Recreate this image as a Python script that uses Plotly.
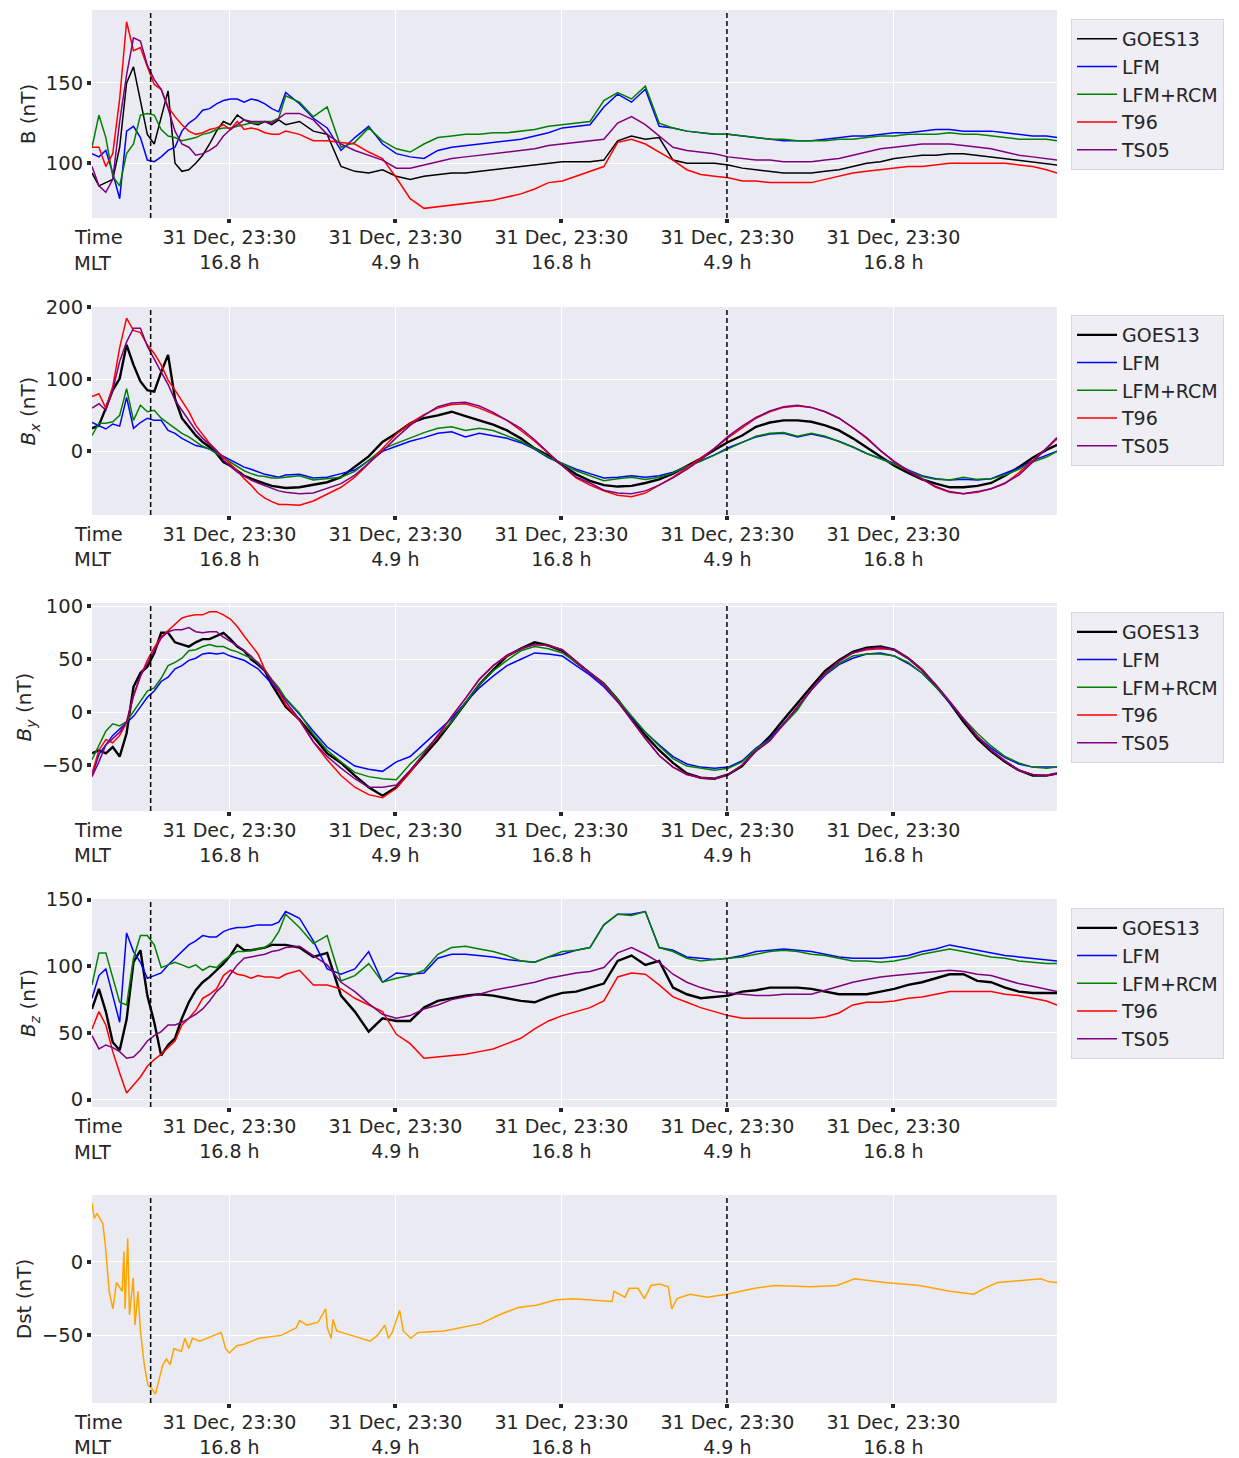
import plotly.graph_objects as go
from plotly.subplots import make_subplots

# time axis in hours from the start of the plotted interval
hours = [0, 0.5, 1, 1.5, 2, 2.5, 3, 3.5, 4, 4.5, 5, 5.5, 6, 6.5, 7, 7.5, 8, 8.5, 9, 9.5,
         10, 10.5, 11, 11.5, 12, 12.5, 13, 13.5, 14,
         15, 16, 17, 18, 19, 20, 21, 22, 23, 24, 25, 26, 27, 28, 29, 30, 31, 32, 33, 34,
         35, 36, 37, 38, 39, 40, 41, 42, 43, 44, 45, 46, 47, 48, 49, 50, 51, 52, 53, 54,
         55, 56, 57, 58, 59, 60, 61, 62, 63, 64, 65, 66, 67, 68, 69, 69.76]

series_names = ["GOES13", "LFM", "LFM+RCM", "T96", "TS05"]

# ---- |B| ----
B_GOES13 = [94, 86, 88, 90, 110, 150, 160, 140, 118, 112, 128, 145, 100, 95, 96, 100, 105, 112, 120, 126, 124, 130, 127, 125, 124, 126, 124, 127, 124,
            126, 120, 118, 98, 95, 94, 96, 92, 90, 92, 93, 94, 94, 95, 96, 97, 98, 99, 100, 101, 101, 101, 102,
            114, 117, 115, 116, 102,
            100, 100, 100, 99, 97, 96, 95, 94, 94, 94, 95, 96, 98, 100, 101, 103, 104, 105, 105, 106, 106, 105, 104, 103, 102, 101, 100, 99]
B_LFM = [106, 104, 108, 94, 78, 120, 123, 116, 102, 101, 104, 108, 110, 120, 125, 128, 133, 134, 137, 139, 140, 140, 138, 140, 139, 137, 134, 132, 144,
         137, 128, 122, 108, 116, 123, 112, 106, 104, 103, 108, 110, 111, 112, 113, 114, 115, 117, 119, 122, 123, 124,
         135, 143, 138, 146, 123, 122, 120, 119, 118, 118, 117,
         116, 115, 114, 114, 114, 115, 116, 117, 117, 118, 119, 119, 120, 121, 121, 120, 120, 120, 119, 118, 117, 117, 116]
B_LFMRCM = [110, 130, 116, 92, 86, 106, 112, 130, 131, 130, 121, 117, 116, 114, 115, 116, 118, 119, 121, 122, 122, 123, 124, 125, 125, 126, 126, 128, 142,
            138, 129, 135, 110, 113, 122, 114, 109, 107, 112, 116, 117, 118, 118, 119, 119, 120, 121, 123, 124, 125, 126,
            139, 144, 140, 148, 125, 122, 120, 119, 118, 118, 117,
            116, 115, 115, 114, 114, 114, 115, 115, 116, 117, 117, 118, 118, 118, 119, 118, 118, 117, 116, 115, 115, 115, 114]
B_T96 = [110, 110, 98, 106, 140, 188, 170, 172, 160, 149, 146, 135, 129, 124, 120, 118, 119, 121, 122, 124, 121, 126, 121, 122, 121, 119, 118, 118, 120,
         118, 114, 114, 113, 112, 107, 103, 91, 78, 72, 73, 74, 75, 76, 77, 79, 81, 84, 88, 89, 92, 95,
         98, 113, 115, 112, 107, 102, 96, 93, 92, 91, 89,
         89, 88, 88, 88, 88, 90, 92, 94, 95, 96, 97, 98, 98, 99, 100, 100, 100, 100, 100, 99, 98, 96, 94]
B_TS05 = [98, 86, 82, 90, 126, 155, 178, 176, 161, 152, 146, 134, 120, 112, 110, 105, 106, 108, 111, 117, 121, 124, 127, 126, 126, 126, 125, 128, 131,
          131, 127, 118, 112, 108, 105, 102, 97, 97, 99, 101, 103, 104, 105, 106, 107, 108, 109, 111, 112, 113, 114,
          115, 125, 129, 124, 117, 110, 108, 107, 106, 104, 103,
          102, 102, 101, 101, 101, 102, 103, 105, 107, 109, 110, 111, 112, 112, 112, 111, 110, 109, 107, 105, 104, 103, 102]

# ---- Bx ----
Bx_GOES13 = [32, 36, 60, 85, 101, 148, 120, 97, 85, 83, 110, 134, 73, 46, 34, 22, 13, 6, -3, -15, -20, -27, -34, -38, -42, -45, -48, -50, -51,
             -50, -47, -43, -36, -22, -7, 13, 25, 39, 46, 50, 55, 49, 43, 37, 29, 18, 4, -6, -19, -32, -41, -47, -49, -48,
             -44, -39, -31, -21, -10, 2, 13, 22, 34, 40, 43, 43, 41, 36, 29, 18, 5, -7, -20, -30, -39, -45, -50, -50,
             -48, -44, -34, -22, -9, 2, 9]
Bx_LFM = [40, 36, 31, 38, 35, 75, 32, 40, 46, 43, 43, 29, 25, 18, 13, 8, 6, 3, -2, -7, -11, -17, -22, -25, -29, -32, -34, -36, -33,
          -32, -37, -36, -31, -26, -13, 0, 7, 14, 19, 25, 27, 20, 25, 22, 18, 12, 3, -9, -17, -25, -31, -37, -36, -34,
          -36, -34, -29, -21, -13, -5, 5, 13, 20, 24, 25, 20, 24, 20, 14, 6, -3, -10, -17, -26, -34, -38, -40, -39,
          -40, -38, -31, -23, -13, -6, 0]
Bx_LFMRCM = [22, 39, 39, 41, 50, 87, 43, 64, 55, 57, 46, 39, 32, 25, 20, 13, 7, 3, -3, -9, -15, -22, -27, -31, -34, -35, -37, -37, -36,
             -34, -40, -38, -36, -28, -12, 3, 11, 19, 26, 32, 34, 29, 32, 29, 22, 14, 4, -8, -17, -27, -34, -41, -38, -36,
             -39, -36, -30, -21, -14, -5, 4, 13, 21, 25, 26, 21, 25, 21, 14, 6, -3, -10, -18, -27, -35, -39, -40, -36,
             -39, -38, -33, -25, -15, -8, 0]
Bx_T96 = [76, 80, 60, 90, 144, 185, 168, 165, 148, 136, 120, 99, 85, 70, 55, 36, 23, 11, 1, -8, -17, -27, -38, -47, -58, -65, -70, -74, -74,
          -75, -69, -59, -50, -36, -17, 4, 24, 39, 51, 60, 65, 66, 60, 52, 43, 29, 14, -3, -20, -37, -47, -55, -61, -63,
          -58, -47, -36, -23, -10, 4, 19, 33, 46, 55, 61, 63, 61, 55, 46, 33, 18, 1, -15, -27, -39, -50, -57, -59,
          -57, -52, -45, -30, -13, 4, 17]
Bx_TS05 = [60, 66, 57, 85, 125, 152, 171, 171, 146, 127, 110, 93, 71, 57, 43, 29, 18, 10, 1, -12, -20, -29, -34, -40, -44, -48, -52, -55, -57,
           -59, -58, -52, -45, -33, -17, 0, 19, 36, 50, 62, 67, 68, 63, 54, 43, 32, 16, -2, -20, -36, -44, -54, -58, -59,
           -55, -47, -37, -25, -12, 4, 21, 35, 47, 56, 62, 64, 61, 55, 46, 33, 19, 1, -14, -27, -38, -49, -56, -59,
           -56, -52, -44, -33, -15, 5, 19]

# ---- By ----
By_GOES13 = [-39, -36, -39, -33, -42, -20, 24, 37, 43, 56, 75, 75, 66, 64, 62, 66, 69, 69, 72, 75, 69, 62, 58, 50, 45, 39, 26, 15, 5,
             -7, -23, -39, -48, -60, -71, -79, -71, -56, -42, -26, -9, 9, 26, 40, 53, 60, 66, 63, 58, 47, 37, 27, 12, -6,
             -22, -36, -48, -58, -62, -63, -59, -51, -36, -23, -7, 9, 24, 39, 49, 57, 61, 62, 59, 51, 40, 25, 9, -9,
             -25, -37, -47, -55, -60, -60, -58]
By_LFM = [-60, -40, -31, -22, -16, -10, -4, 5, 14, 20, 29, 33, 41, 44, 49, 51, 55, 56, 55, 56, 53, 51, 49, 45, 41, 34, 27, 20, 12,
          -2, -18, -33, -42, -51, -54, -56, -47, -42, -30, -18, -6, 9, 23, 34, 44, 50, 56, 55, 53, 44, 35, 24, 10, -5,
          -19, -31, -42, -49, -52, -53, -52, -46, -34, -25, -11, 4, 21, 35, 45, 51, 55, 56, 53, 46, 37, 24, 9, -7,
          -23, -34, -43, -49, -52, -52, -52]
By_LFMRCM = [-45, -31, -18, -11, -13, -9, 1, 10, 20, 23, 32, 44, 47, 51, 58, 59, 62, 64, 62, 62, 59, 57, 54, 51, 47, 40, 31, 23, 13,
             -1, -21, -36, -47, -57, -61, -63, -64, -49, -37, -23, -9, 9, 26, 39, 49, 58, 62, 60, 56, 47, 37, 27, 12, -4,
             -19, -32, -44, -51, -53, -55, -53, -47, -35, -26, -12, 2, 22, 36, 46, 53, 55, 55, 53, 47, 37, 24, 10, -6,
             -20, -32, -42, -48, -52, -53, -52]
By_T96 = [-58, -36, -26, -29, -22, -10, 15, 34, 49, 61, 71, 77, 83, 89, 91, 92, 92, 95, 95, 92, 88, 81, 72, 64, 55, 40, 29, 20, 7,
          -8, -28, -45, -60, -71, -78, -81, -72, -57, -39, -23, -4, 13, 31, 44, 53, 60, 64, 63, 59, 48, 37, 26, 10, -8,
          -25, -41, -52, -59, -62, -63, -59, -50, -37, -27, -11, 6, 21, 37, 48, 56, 59, 60, 59, 51, 40, 26, 10, -7,
          -23, -36, -46, -55, -59, -60, -58]
By_TS05 = [-61, -47, -31, -25, -19, -9, 16, 34, 46, 58, 70, 76, 78, 78, 80, 76, 75, 76, 76, 71, 67, 63, 58, 53, 46, 39, 30, 21, 10,
           -7, -28, -42, -53, -63, -71, -71, -69, -55, -39, -22, -4, 13, 31, 44, 54, 60, 64, 63, 59, 48, 37, 26, 10, -8,
           -25, -41, -52, -59, -62, -63, -59, -50, -37, -27, -11, 6, 21, 37, 48, 56, 60, 61, 59, 51, 40, 26, 10, -7,
           -23, -36, -46, -55, -59, -60, -58]

# ---- Bz ----
Bz_GOES13 = [68, 83, 66, 43, 37, 60, 103, 112, 78, 58, 33, 41, 46, 61, 73, 82, 88, 92, 97, 102, 108, 116, 112, 112, 113, 114, 116, 116, 116,
             114, 107, 110, 78, 66, 51, 61, 59, 59, 69, 74, 76, 78, 79, 78, 76, 74, 73, 77, 80, 81, 84, 87, 104, 108,
             101, 104, 84, 79, 76, 77, 78, 81, 82, 84, 84, 84, 83, 81, 79, 79, 79, 81, 83, 86, 88, 91, 94, 94,
             89, 88, 84, 81, 80, 80, 80]
Bz_LFM = [76, 93, 98, 78, 58, 125, 111, 103, 91, 93, 95, 101, 106, 111, 116, 119, 123, 122, 122, 126, 128, 129, 129, 130, 131, 131, 131, 133, 141,
          136, 119, 98, 94, 98, 111, 88, 95, 94, 95, 106, 109, 109, 108, 107, 105, 104, 103, 107, 109, 112, 114, 131, 139, 139,
          141, 114, 112, 107, 106, 105, 106, 108, 111, 112, 113, 112, 111, 109, 107, 106, 106, 106, 107, 108, 111, 113, 116, 114,
          112, 110, 108, 107, 106, 105, 104]
Bz_LFMRCM = [86, 110, 110, 91, 73, 71, 106, 123, 123, 116, 99, 101, 103, 101, 99, 101, 97, 100, 99, 104, 108, 111, 111, 112, 113, 114, 118, 126, 139,
             129, 117, 123, 89, 93, 102, 88, 91, 93, 97, 109, 114, 115, 113, 111, 108, 104, 103, 107, 111, 112, 114, 131, 139, 138,
             141, 114, 111, 106, 104, 105, 106, 107, 109, 111, 112, 111, 109, 108, 106, 104, 104, 103, 104, 106, 109, 111, 113, 111,
             109, 107, 106, 104, 103, 102, 102]
Bz_T96 = [53, 66, 56, 36, 20, 5, 11, 17, 25, 30, 34, 39, 44, 56, 61, 67, 76, 79, 83, 93, 97, 94, 93, 91, 93, 92, 92, 91, 94,
          97, 86, 86, 83, 76, 71, 66, 49, 42, 31, 32, 33, 34, 36, 38, 42, 46, 53, 59, 63, 66, 69, 74, 92, 95,
          94, 86, 77, 73, 69, 66, 63, 61, 61, 61, 61, 61, 61, 62, 65, 71, 73, 73, 74, 76, 77, 79, 81, 81,
          81, 81, 79, 78, 76, 74, 71]
Bz_TS05 = [48, 38, 41, 39, 36, 31, 32, 37, 44, 48, 51, 56, 56, 58, 61, 64, 68, 74, 81, 86, 94, 101, 106, 107, 108, 109, 111, 112, 114,
           115, 108, 101, 88, 81, 72, 64, 61, 63, 68, 71, 75, 77, 79, 82, 84, 86, 88, 91, 93, 95, 96, 99, 110, 114,
           109, 103, 94, 88, 84, 81, 80, 79, 78, 78, 79, 79, 79, 82, 85, 88, 90, 92, 93, 94, 95, 96, 97, 96,
           94, 93, 90, 87, 85, 83, 81]

# ---- Dst (own time stamps) ----
dst_hours = [0, 0.17, 0.36, 0.78, 0.97, 1.24, 1.51, 1.77, 2.18, 2.31, 2.39, 2.58, 2.71, 2.98, 3.11, 3.32, 3.51, 3.78,
             4.05, 4.31, 4.58, 4.85, 5.12, 5.38, 5.65, 5.92, 6.46, 6.72, 6.99, 7.26, 7.79, 9.34, 9.66, 9.93, 10.47,
             11.0, 12.07, 13.68, 14.75, 15.01, 15.55, 16.35, 16.89, 17.02, 17.29, 17.42, 17.69, 18.76, 20.1, 20.63,
             21.17, 21.43, 21.7, 22.24, 22.5, 23.04, 23.57, 25.45, 28.12, 29.46, 30.8, 32.13, 33.47, 34.77, 36.33,
             37.59, 37.74, 38.53, 38.84, 39.47, 39.94, 40.41, 41.03, 41.66, 41.91, 42.29, 43.23, 44.47, 45.88, 47.92,
             49.33, 51.99, 53.87, 55.12, 57.31, 59.82, 62.01, 63.73, 64.51, 65.45, 68.58, 69.21, 69.77]
dst_values = [40, 29.5, 33, 26, 11, -20, -32, -14, -20, 7, -32, 16, -36, -11, -43, -20, -48, -70,
              -84, -86, -90, -80, -70, -66, -70, -59, -61, -52, -59, -52, -54, -48, -59, -62, -57,
              -56, -52, -50, -45, -40, -43, -41, -32, -45, -52, -39, -47, -50, -54, -50,
              -43, -52, -48, -33, -47, -52, -48, -47, -42, -36, -31, -29.5, -26, -25, -26,
              -27, -20, -24, -18, -18, -25, -16, -15, -17, -32, -25, -22, -24, -22, -18,
              -16, -17, -16, -11.5, -14, -16, -20, -22, -18, -14, -11.5, -13.6, -14]

event_hours = [4.24, 45.9]
tick_hours = [9.93, 21.93, 33.93, 45.93, 57.93]
tick_text = ["31 Dec, 23:30<br>16.8 h", "31 Dec, 23:30<br>4.9 h", "31 Dec, 23:30<br>16.8 h",
             "31 Dec, 23:30<br>4.9 h", "31 Dec, 23:30<br>16.8 h"]

panels = [
    dict(series=[B_GOES13, B_LFM, B_LFMRCM, B_T96, B_TS05], yrange=[66, 195.3], ticks=[100, 150],
         title="B (nT)", gw=1.5),
    dict(series=[Bx_GOES13, Bx_LFM, Bx_LFMRCM, Bx_T96, Bx_TS05], yrange=[-88.5, 200.5], ticks=[0, 100, 200],
         title="<i>B<sub>x</sub></i> (nT)", gw=2.4),
    dict(series=[By_GOES13, By_LFM, By_LFMRCM, By_T96, By_TS05], yrange=[-93.5, 103.2], ticks=[-50, 0, 50, 100],
         title="<i>B<sub>y</sub></i> (nT)", gw=2.4),
    dict(series=[Bz_GOES13, Bz_LFM, Bz_LFMRCM, Bz_T96, Bz_TS05], yrange=[-5.5, 150.4], ticks=[0, 50, 100, 150],
         title="<i>B<sub>z</sub></i> (nT)", gw=2.4),
]
colors = ["#000000", "#0000ff", "#008000", "#ff0000", "#800080"]

for p in panels:
    for s in p["series"]:
        assert len(s) == len(hours), (p["title"], len(s))
assert len(dst_hours) == len(dst_values)

W, H = 1239, 1458
ML, MR, MT, MB = 92, 182, 10, 55
PH = H - MT - MB
tops = [10, 307, 603, 899, 1195]
PANEL_H = 208


def py2paper(py):
    return (H - MB - py) / PH


fig = make_subplots(rows=5, cols=1)
FONT = "DejaVu Sans"
TXT = "#262626"

for k, p in enumerate(panels):
    row = k + 1
    lg = "legend" if k == 0 else "legend%d" % (k + 1)
    for j, (name, vals) in enumerate(zip(series_names, p["series"])):
        w = p["gw"] if j == 0 else 1.5
        fig.add_trace(go.Scatter(x=hours, y=vals, mode="lines", name=name,
                                 line=dict(color=colors[j], width=w),
                                 legend=lg), row=row, col=1)

fig.add_trace(go.Scatter(x=dst_hours, y=dst_values, mode="lines", name="Dst",
                         line=dict(color="#ffa500", width=1.5), showlegend=False), row=5, col=1)

yranges = [p["yrange"] for p in panels] + [[-96, 45.5]]
yticks = [p["ticks"] for p in panels] + [[-50, 0]]
ytitles = [p["title"] for p in panels] + ["Dst (nT)"]

layout = dict(
    width=W, height=H,
    margin=dict(l=ML, r=MR, t=MT, b=MB),
    paper_bgcolor="white", plot_bgcolor="#eaeaf2",
    font=dict(family=FONT, size=19, color=TXT),
    showlegend=True,
    shapes=[], annotations=[],
)

for k in range(5):
    top = tops[k]
    bot = top + PANEL_H
    ax = "" if k == 0 else str(k + 1)
    layout["xaxis" + ax] = dict(
        domain=[0, 1], range=[0, 69.76], tickmode="array", tickvals=tick_hours, ticktext=tick_text,
        showgrid=True, gridcolor="white", gridwidth=1.3, zeroline=False, showline=False,
        ticks="outside", ticklen=4, tickwidth=3.5, tickcolor="#262626",
        tickfont=dict(family=FONT, size=19, color=TXT), automargin=False,
        ticklabelstandoff=-2,
        anchor="y" + ax,
    )
    layout["yaxis" + ax] = dict(
        domain=[py2paper(bot), py2paper(top)], range=yranges[k], tickmode="array", tickvals=yticks[k],
        showgrid=True, gridcolor="white", gridwidth=1.3, zeroline=False, showline=False,
        ticks="outside", ticklen=4, tickwidth=3.5, tickcolor="#262626",
        tickfont=dict(family=FONT, size=19.5, color=TXT), automargin=False,
        title=dict(text=ytitles[k], font=dict(family=FONT, size=20, color=TXT), standoff=4),
        anchor="x" + ax,
    )
    for eh in event_hours:
        layout["shapes"].append(dict(type="line", xref="x" + ax, yref="y" + ax + " domain",
                                     x0=eh, x1=eh, y0=0, y1=1,
                                     line=dict(color="black", width=1.5, dash="5px,3px")))
    layout["annotations"].append(dict(text="Time", xref="paper", yref="paper", x=-20 / (W - ML - MR),
                                      y=py2paper(bot + 19), xanchor="left", yanchor="middle",
                                      showarrow=False, font=dict(family=FONT, size=19.5, color=TXT)))
    layout["annotations"].append(dict(text="MLT", xref="paper", yref="paper", x=-20 / (W - ML - MR),
                                      y=py2paper(bot + 45), xanchor="left", yanchor="middle",
                                      showarrow=False, font=dict(family=FONT, size=19.5, color=TXT)))

legend_tops = [19, 315, 612, 908]
for k, lt in enumerate(legend_tops):
    key = "legend" if k == 0 else "legend%d" % (k + 1)
    layout[key] = dict(x=(1071 - ML) / (W - ML - MR), y=py2paper(lt), xanchor="left", yanchor="top",
                       bgcolor="#eeeef4", bordercolor="#d6d6dc", borderwidth=1,
                       font=dict(family=FONT, size=19, color=TXT), itemwidth=40,
                       tracegroupgap=0)

fig.update_layout(**layout)
fig.write_html("out.html")
